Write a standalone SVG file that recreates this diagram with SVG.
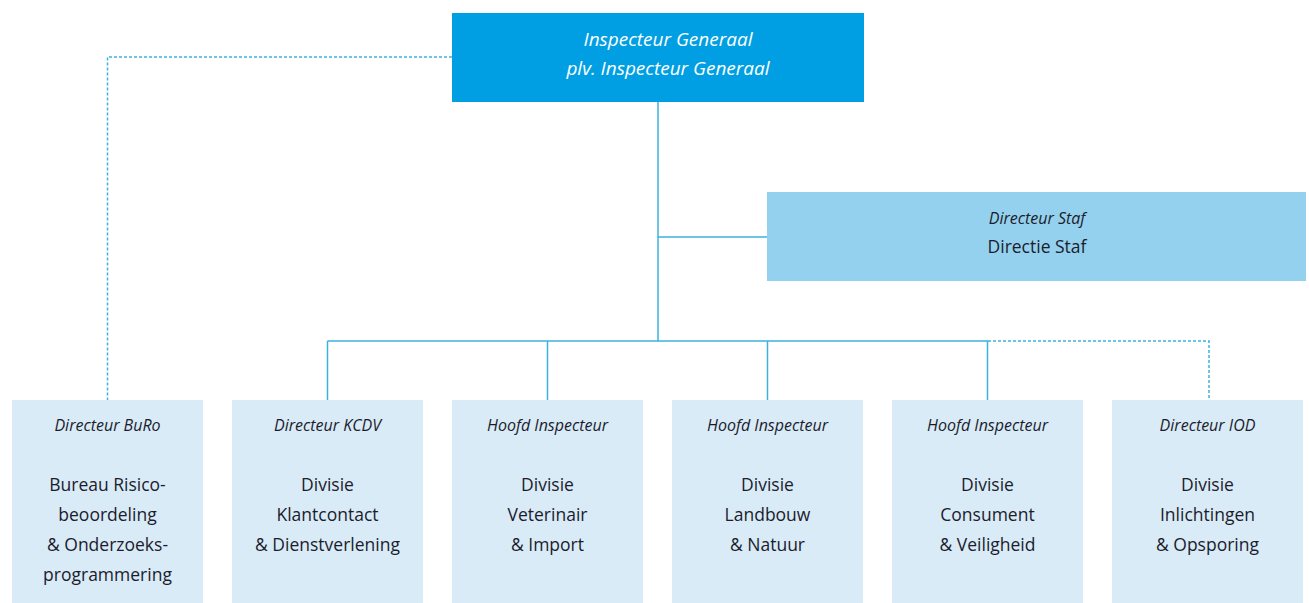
<svg xmlns="http://www.w3.org/2000/svg" width="1309" height="603" viewBox="0 0 1309 603">
<style>
.bx{fill:#d8ebf7}
.t{font-family:"Open Sans","Noto Sans",sans-serif;fill:#1c1c2c;text-anchor:middle}
.ti{font-style:italic;font-size:16px}
.tr{font-size:17.5px}
.tw{font-style:italic;font-size:19px;fill:#fff}
.ln{stroke:#3db2dc;stroke-width:1.5;fill:none}
.ds{stroke:#3db2dc;stroke-width:1.5;fill:none;stroke-dasharray:3,2}
</style>
<rect width="1309" height="603" fill="#fff"/>
<g id="connectors">
<path class="ln" d="M658,102 V341 M658,237 H767 M327.5,341 H988 M327.5,341 V400 M547.5,341 V400 M767.5,341 V400 M987.5,341 V400"/>
<path class="ds" d="M452,57 H107.5 V400 M988,341 H1209 V400"/>
</g>
<g id="ig">
<rect x="452" y="13" width="412" height="89" fill="#009fe3"/>
<text class="t tw" x="668" y="46">Inspecteur Generaal</text>
<text class="t tw" x="668" y="75">plv. Inspecteur Generaal</text>
</g>
<g id="staf">
<rect x="767" y="192" width="539" height="89" fill="#93d1ee"/>
<text class="t ti" x="1037" y="224">Directeur Staf</text>
<text class="t tr" x="1037" y="253">Directie Staf</text>
</g>
<g id="buro">
<rect class="bx" x="12" y="400" width="191" height="203"/>
<text class="t ti" x="107.5" y="431">Directeur BuRo</text>
<text class="t tr" x="107.5" y="491">Bureau Risico-</text>
<text class="t tr" x="107.5" y="521">beoordeling</text>
<text class="t tr" x="107.5" y="551">&amp; Onderzoeks-</text>
<text class="t tr" x="107.5" y="581">programmering</text>
</g>
<g id="kcdv">
<rect class="bx" x="232" y="400" width="191" height="203"/>
<text class="t ti" x="327.5" y="431">Directeur KCDV</text>
<text class="t tr" x="327.5" y="491">Divisie</text>
<text class="t tr" x="327.5" y="521">Klantcontact</text>
<text class="t tr" x="327.5" y="551">&amp; Dienstverlening</text>
</g>
<g id="vi">
<rect class="bx" x="452" y="400" width="191" height="203"/>
<text class="t ti" x="547.5" y="431">Hoofd Inspecteur</text>
<text class="t tr" x="547.5" y="491">Divisie</text>
<text class="t tr" x="547.5" y="521">Veterinair</text>
<text class="t tr" x="547.5" y="551">&amp; Import</text>
</g>
<g id="ln">
<rect class="bx" x="672" y="400" width="191" height="203"/>
<text class="t ti" x="767.5" y="431">Hoofd Inspecteur</text>
<text class="t tr" x="767.5" y="491">Divisie</text>
<text class="t tr" x="767.5" y="521">Landbouw</text>
<text class="t tr" x="767.5" y="551">&amp; Natuur</text>
</g>
<g id="cv">
<rect class="bx" x="892" y="400" width="191" height="203"/>
<text class="t ti" x="987.5" y="431">Hoofd Inspecteur</text>
<text class="t tr" x="987.5" y="491">Divisie</text>
<text class="t tr" x="987.5" y="521">Consument</text>
<text class="t tr" x="987.5" y="551">&amp; Veiligheid</text>
</g>
<g id="iod">
<rect class="bx" x="1112" y="400" width="191" height="203"/>
<text class="t ti" x="1207.5" y="431">Directeur IOD</text>
<text class="t tr" x="1207.5" y="491">Divisie</text>
<text class="t tr" x="1207.5" y="521">Inlichtingen</text>
<text class="t tr" x="1207.5" y="551">&amp; Opsporing</text>
</g>
</svg>
